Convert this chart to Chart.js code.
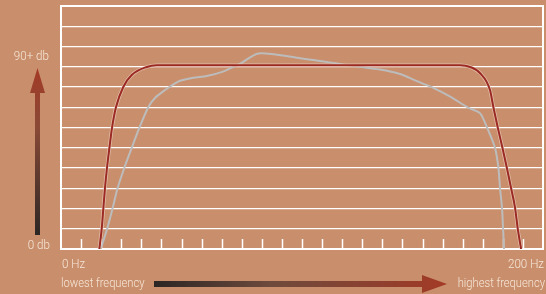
<!DOCTYPE html>
<html>
<head>
<meta charset="utf-8">
<script src="https://cdn.jsdelivr.net/npm/chart.js@4"></script>
<style>
html, body { margin: 0; padding: 0; background: #c98f6c; }
#wrap { width: 546px; height: 294px; }
</style>
</head>
<body>
<div id="wrap"><canvas id="freqChart" width="546" height="294"></canvas></div>
<script>
// x = tick steps (0 = 0 Hz, 24 = 200 Hz), y = level in db (0..120)
const redX = [1.91, 2.03, 2.11, 2.19, 2.29, 2.41, 2.54, 2.74, 3.1, 3.52, 4.27, 4.77,
    19.87, 20.37, 20.87, 21.36, 21.53, 21.75, 21.98, 22.2, 22.41, 22.61, 22.74, 22.91];
const redY = [0, 10.3, 20.2, 30.1, 40, 49.9, 59.8, 70.1, 80, 85.9, 89.9, 90.7,
    90.7, 89.9, 86.8, 78.5, 70, 59.9, 50, 40.1, 30.1, 20.2, 10.2, 0];

const grayX = [1.98, 2.31, 2.57, 2.82, 3.15, 3.52, 3.9, 4.35, 4.68, 5.18, 5.68, 5.93,
    6.59, 7.26, 8.07, 8.42, 8.91, 9.83, 11.74, 14.23, 15.89, 16.88, 17.63, 18.46,
    19.38, 20.27, 20.87, 21.22, 21.61, 21.78, 21.86, 21.96, 22.01, 22.06];
const grayY = [0, 10.4, 20.2, 30.1, 40, 49.9, 59.8, 70.1, 74.6, 78.5, 81.8, 83.1,
    84.6, 85.4, 87.6, 89.2, 91.4, 96.6, 94.5, 90.9, 88.6, 86.4, 83.3, 79.9,
    75.2, 69.8, 67, 59.8, 50, 40.1, 30.1, 20.2, 10.4, 0];

const tickLabels = ["0 Hz", "200 Hz"];
const levelLabels = ["90+ db", "0 db"];
const rangeLabels = ["lowest frequency", "highest frequency"];

const FONT = "Roboto, \"Liberation Sans\", sans-serif";
const TEXT = "#f6e6d8";

const toPoints = (xs, ys) => xs.map((x, i) => ({ x: x, y: ys[i] }));

// schmale schrift: text horizontal stauchen
function narrowText(ctx, str, x, y, align) {
    ctx.save();
    ctx.translate(x, y);
    ctx.scale(0.86, 1);
    ctx.textAlign = align;
    ctx.fillText(str, 0, 0);
    ctx.restore();
}

// pfeile, texte, innere ticks und rahmen
const decor = {
    id: "decor",
    beforeDatasetsDraw(chart) {
        const { ctx, chartArea: a, scales: { x } } = chart;
        ctx.save();
        ctx.strokeStyle = "#fff";
        ctx.lineWidth = 1.5;
        for (let v = 1; v < 24; v++) {
            const px = Math.round(x.getPixelForValue(v)) + 0.5;
            ctx.beginPath();
            ctx.moveTo(px, a.bottom);
            ctx.lineTo(px, a.bottom - 10);
            ctx.stroke();
        }
        ctx.lineWidth = 2;
        ctx.strokeRect(a.left, a.top, a.right - a.left, a.bottom - a.top);
        ctx.restore();
    },
    afterDraw(chart) {
        const { ctx, scales: { x } } = chart;
        ctx.save();

        // vertikaler pfeil
        let g = ctx.createLinearGradient(0, 68, 0, 235);
        g.addColorStop(0, "#a33a26");
        g.addColorStop(0.35, "#8a4a36");
        g.addColorStop(1, "#2b2624");
        ctx.fillStyle = g;
        ctx.fillRect(35, 92, 5, 143);
        ctx.beginPath();
        ctx.moveTo(37.5, 68);
        ctx.lineTo(45, 93);
        ctx.lineTo(30, 93);
        ctx.closePath();
        ctx.fill();

        // horizontaler pfeil
        g = ctx.createLinearGradient(154, 0, 447, 0);
        g.addColorStop(0, "#2b2624");
        g.addColorStop(0.4, "#6e4a3c");
        g.addColorStop(1, "#a33a26");
        ctx.fillStyle = g;
        ctx.fillRect(154, 281, 270, 6);
        ctx.beginPath();
        ctx.moveTo(447, 284);
        ctx.lineTo(422, 275);
        ctx.lineTo(422, 293);
        ctx.closePath();
        ctx.fill();

        ctx.fillStyle = TEXT;
        ctx.font = "300 13.5px " + FONT;
        ctx.textBaseline = "middle";
        narrowText(ctx, levelLabels[0], 49, 57, "right");
        narrowText(ctx, levelLabels[1], 50, 246, "right");
        narrowText(ctx, tickLabels[0], x.getPixelForValue(0) + 1, 265, "left");
        narrowText(ctx, tickLabels[1], x.getPixelForValue(24) + 1, 265, "right");
        ctx.font = "300 13px " + FONT;
        narrowText(ctx, rangeLabels[0], 61, 284, "left");
        narrowText(ctx, rangeLabels[1], 545, 284, "right");
        ctx.restore();
    }
};

new Chart(document.getElementById("freqChart"), {
    type: "line",
    data: {
        datasets: [
            {
                data: toPoints(redX, redY),
                borderColor: "#9b2a22",
                borderWidth: 2,
                cubicInterpolationMode: "monotone",
                pointRadius: 0
            },
            {
                data: toPoints(redX, redY),
                borderColor: "rgba(240, 210, 198, 0.7)",
                borderWidth: 3.5,
                cubicInterpolationMode: "monotone",
                pointRadius: 0
            },
            {
                data: toPoints(grayX, grayY),
                borderColor: "#bcbcbc",
                borderWidth: 2,
                tension: 0.25,
                pointRadius: 0
            }
        ]
    },
    options: {
        responsive: false,
        animation: false,
        layout: { padding: { top: 6, right: 3, left: 0, bottom: 0 } },
        plugins: { legend: { display: false }, tooltip: { enabled: false } },
        scales: {
            x: {
                type: "linear",
                min: 0,
                max: 24,
                afterFit: s => { s.height = 45; },
                grid: { display: false, drawTicks: false },
                border: { color: "#fff", width: 2 },
                ticks: { stepSize: 1, display: false }
            },
            y: {
                min: 0,
                max: 120,
                afterFit: s => { s.width = 61; },
                grid: { color: "#fff", lineWidth: 1.2, drawTicks: false },
                border: { color: "#fff", width: 2 },
                ticks: { stepSize: 10, display: false }
            }
        }
    },
    plugins: [decor]
});
</script>
</body>
</html>
